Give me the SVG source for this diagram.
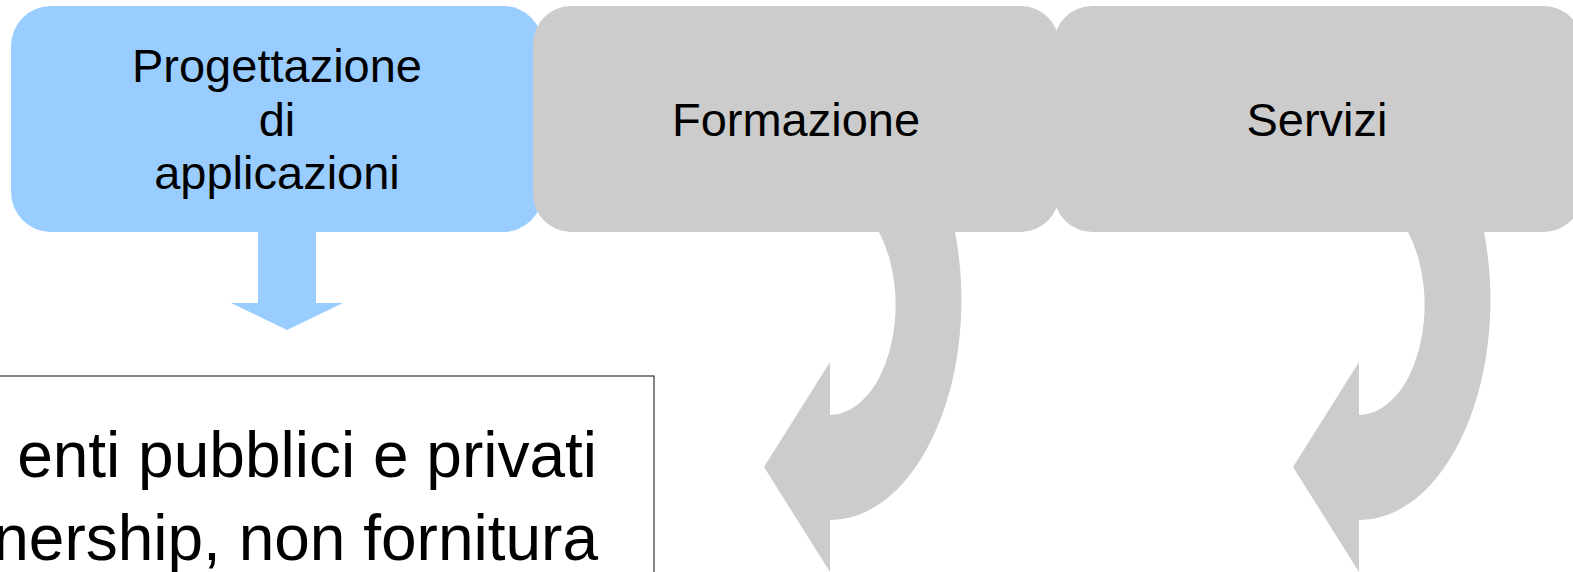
<svg xmlns="http://www.w3.org/2000/svg" width="1573" height="572" viewBox="0 0 1573 572">
<style>
.lbl{font-family:"Liberation Sans",Arial,sans-serif;font-size:47px;fill:#000;text-anchor:middle}
.big{font-family:"Liberation Sans",Arial,sans-serif;font-size:64px;fill:#000;text-anchor:end}
.blue{fill:#99ccff}
.gray{fill:#cccccc}
</style>
<rect width="1573" height="572" fill="#ffffff"/>
<g id="connectors">
<polygon class="blue" points="258,225 316,225 316,303 343,303 287,330 231,303 258,303"/>
<path class="gray" d="M879,222 L879,232 A66,110 0 0 1 830,415 L830,362 L764,467 L830,572 L830,520 A131,220 0 0 0 955,232 L955,222 Z"/>
<path class="gray" d="M1408,222 L1408,232 A66,110 0 0 1 1359,415 L1359,362 L1293,467 L1359,572 L1359,520 A131,220 0 0 0 1484,232 L1484,222 Z"/>
</g>
<g id="node-progettazione">
<rect class="blue" x="11" y="6" width="532" height="226" rx="40" ry="40"/>
<text class="lbl" x="277" y="82">Progettazione</text>
<text class="lbl" x="277" y="136">di</text>
<text class="lbl" x="277" y="189">applicazioni</text>
</g>
<g id="node-formazione">
<rect class="gray" x="533" y="6" width="526" height="226" rx="38" ry="38"/>
<text class="lbl" x="796" y="136">Formazione</text>
</g>
<g id="node-servizi">
<rect class="gray" x="1054" y="6" width="528" height="226" rx="38" ry="38"/>
<text class="lbl" x="1317" y="136">Servizi</text>
</g>
<g id="node-enti">
<rect x="-10" y="376" width="664" height="220" fill="#ffffff" stroke="#333333" stroke-width="1.2"/>
<text class="big" x="597" y="477">enti pubblici e privati</text>
<text class="big" x="598" y="560">nership, non fornitura</text>
</g>
</svg>
